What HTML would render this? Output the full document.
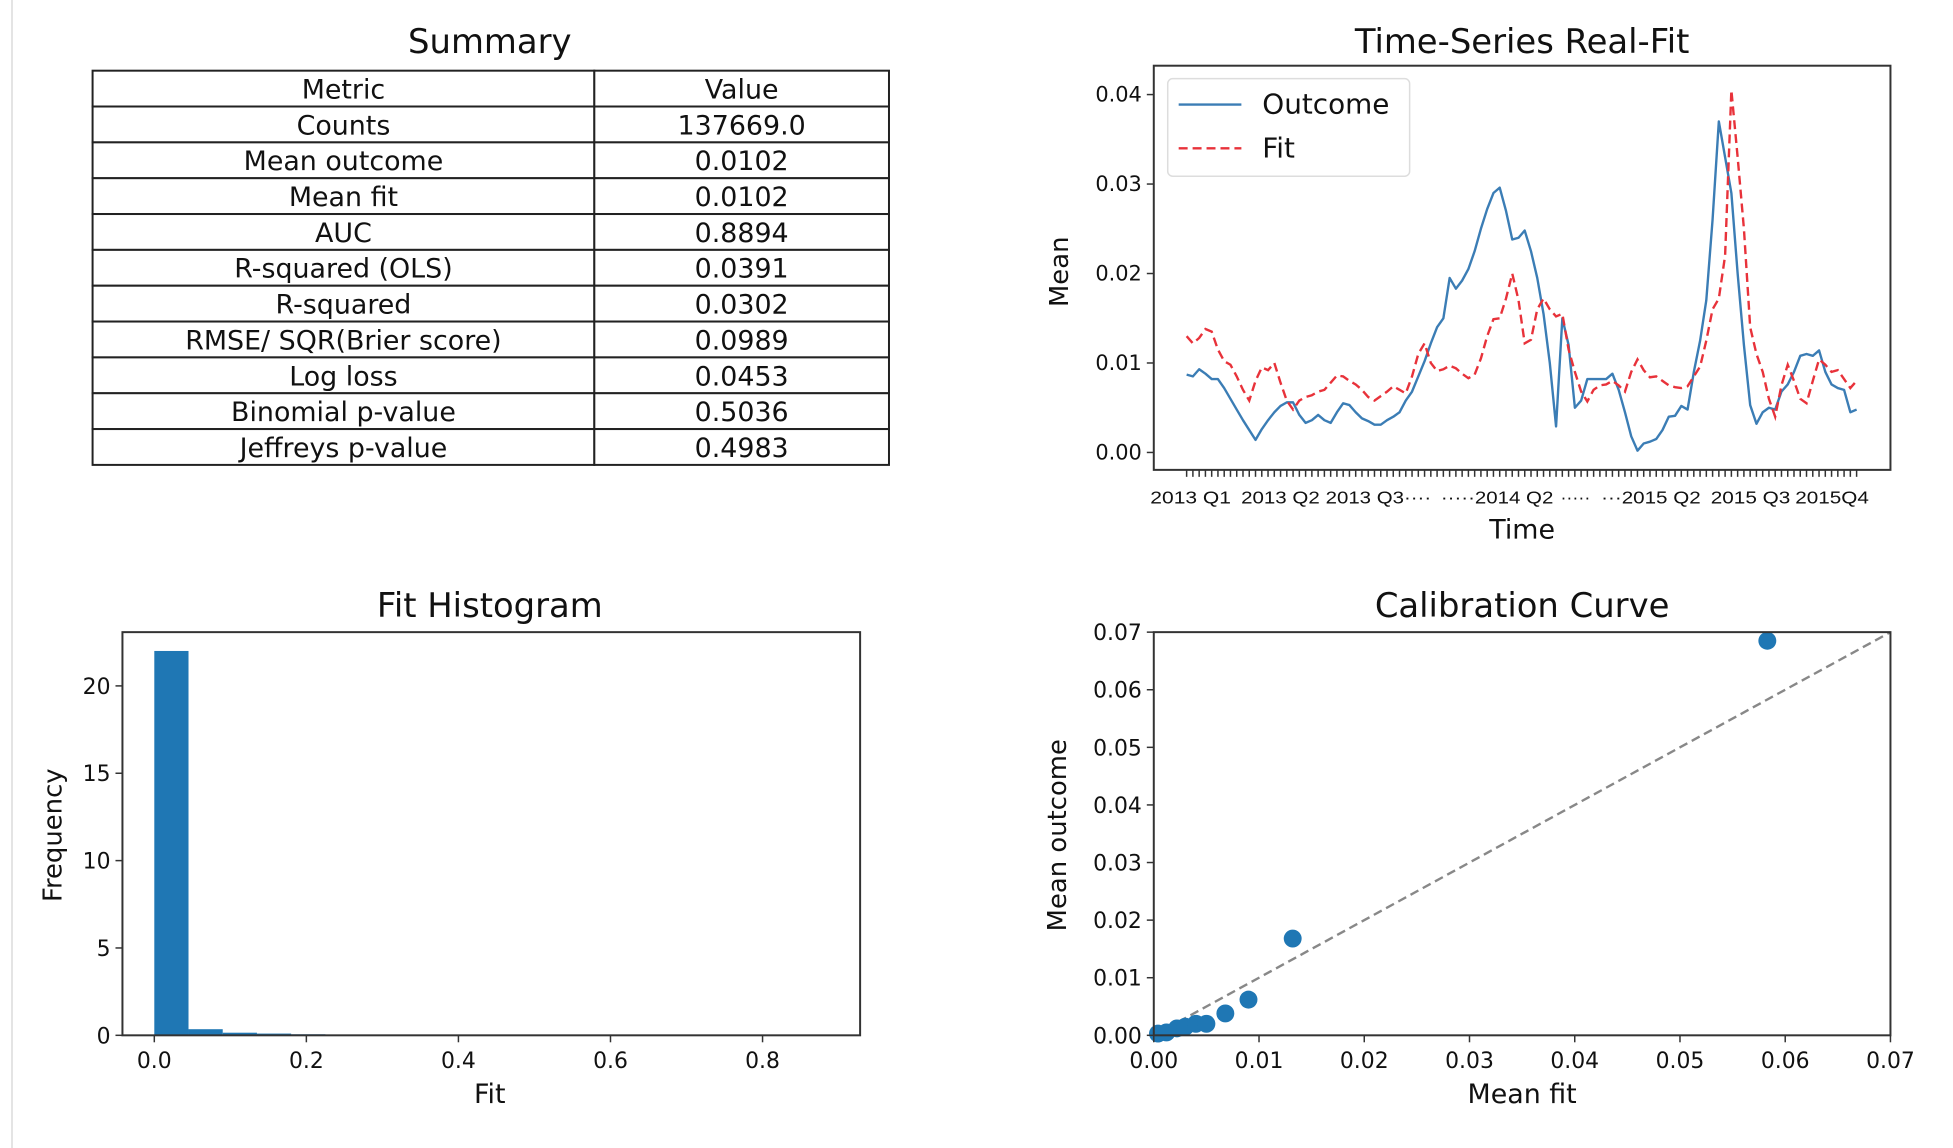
<!DOCTYPE html>
<html><head><meta charset="utf-8">
<style>
html,body{margin:0;padding:0;background:#fff;}
svg{display:block;font-family:"DejaVu Sans","Liberation Sans",sans-serif;}
</style></head>
<body>
<svg id="fig" width="1953" height="1148" viewBox="0 0 1953 1148" xmlns="http://www.w3.org/2000/svg">
<rect x="0" y="0" width="1953" height="1148" fill="#fff"/>
<line x1="12" y1="0" x2="12" y2="1148" stroke="#e4e4e4" stroke-width="2"/>
<g transform="scale(0.9955)">
<g id="summary"></g>
<g id="ts"></g>
<g id="hist"></g>
<g id="cal"></g>
</g>
</svg>
<script>
// ---- Summary table data ----
const metricNames = ["Counts","Mean outcome","Mean fit","AUC","R-squared (OLS)","R-squared","RMSE/ SQR(Brier score)","Log loss","Binomial p-value","Jeffreys p-value"];
const metricValues = ["137669.0","0.0102","0.0102","0.8894","0.0391","0.0302","0.0989","0.0453","0.5036","0.4983"];

// ---- Time series data ----
const outcomeSeries = [.0087,.0085,.0093,.0088,.0082,.0082,.0072,.0060,.0048,.0036,.0025,.0014,.0026,.0036,.0045,.0052,.0056,.0056,.0042,.0033,.0036,.0042,.0036,.0033,.0045,.0055,.0053,.0045,.0038,.0035,.0031,.0031,.0036,.0040,.0045,.0058,.0068,.0085,.0102,.0122,.0140,.0150,.0195,.0183,.0192,.0205,.0225,.0250,.0272,.0290,.0296,.0270,.0238,.0240,.0248,.0225,.0195,.0155,.0100,.0029,.0150,.0120,.0050,.0058,.0082,.0082,.0082,.0082,.0088,.0070,.0045,.0018,.0002,.0010,.0012,.0015,.0025,.0040,.0041,.0052,.0048,.0090,.0125,.0170,.0260,.0370,.0330,.0290,.0200,.0120,.0053,.0032,.0045,.0050,.0048,.0068,.0076,.0090,.0108,.0110,.0108,.0114,.0090,.0076,.0072,.0070,.0045,.0048];
const fitSeries = [.0130,.0122,.0128,.0138,.0135,.0115,.0102,.0098,.0085,.0070,.0058,.0080,.0095,.0092,.0100,.0078,.0058,.0048,.0058,.0062,.0064,.0068,.0070,.0078,.0086,.0085,.0080,.0076,.0070,.0062,.0058,.0063,.0068,.0074,.0070,.0066,.0085,.0110,.0122,.0100,.0091,.0093,.0097,.0094,.0088,.0083,.0087,.0105,.0130,.0149,.0150,.0172,.0200,.0170,.0122,.0126,.0160,.0172,.0160,.0152,.0155,.0115,.0090,.0068,.0057,.0070,.0075,.0076,.0080,.0075,.0068,.0090,.0104,.0092,.0084,.0085,.0080,.0075,.0073,.0072,.0074,.0085,.0096,.0125,.0160,.0172,.0220,.0405,.0330,.0250,.0140,.0110,.0090,.0060,.0040,.0075,.0098,.0080,.0060,.0055,.0080,.0104,.0098,.0090,.0092,.0082,.0072,.0080];
const tsYTicks = [0.00,0.01,0.02,0.03,0.04];
const tsYTickLabels = ["0.00","0.01","0.02","0.03","0.04"];
const tsXLabels = ["2013 Q1","2013 Q2","2013 Q3····","·····2014 Q2","·····","···2015 Q2","2015 Q3","2015Q4"];
const tsXLabelIdx = [-5.8,8.7,22.2,40.6,59.7,66.2,83.7,97.2];
const tsXLabelLen = [81,79,106,113,30,100,80,74];

// ---- Histogram data ----
const histBinStart = [0,0.045,0.09,0.135,0.18,0.225,0.27,0.315,0.36,0.405];
const histBinWidth = 0.045;
const histCounts = [22,0.35,0.15,0.1,0.06,0.04,0.02,0.01,0.01,0.01];
const histXTicks = [0.0,0.2,0.4,0.6,0.8];
const histYTicks = [0,5,10,15,20];

// ---- Calibration data ----
const calMeanFit = [0.0004,0.0012,0.0022,0.0030,0.0040,0.0050,0.0068,0.0090,0.0132,0.0583];
const calMeanOutcome = [0.0003,0.0005,0.0012,0.0015,0.0020,0.0020,0.0038,0.0062,0.0168,0.0685];
const calTicks = [0,0.01,0.02,0.03,0.04,0.05,0.06,0.07];
const calTickLabels = ["0.00","0.01","0.02","0.03","0.04","0.05","0.06","0.07"];

const NS="http://www.w3.org/2000/svg";
function mk(parent,tag,attrs,text){
  const e=document.createElementNS(NS,tag);
  for(const k in attrs) e.setAttribute(k,attrs[k]);
  if(text!==undefined) e.textContent=text;
  parent.appendChild(e);
  return e;
}
function lin(d0,d1,r0,r1){return v=>r0+(v-d0)*(r1-r0)/(d1-d0);}

// ================= Summary table =================
(function(){
  const g=document.getElementById('summary');
  const L=93,R=893,D=597,T=71,rh=36;
  let t=mk(g,'text',{x:492,y:53,'text-anchor':'middle','font-size':34,fill:'#111'},"Summary");
  
  
  const rows=[["Metric","Value"]];
  for(let i=0;i<metricNames.length;i++) rows.push([metricNames[i],metricValues[i]]);
  rows.forEach((r,i)=>{
    const y=T+i*rh;
    const c1=mk(g,'rect',{x:L,y:y,width:D-L,height:rh,fill:'#fff',stroke:'#222','stroke-width':2});
    
    
    const c2=mk(g,'rect',{x:D,y:y,width:R-D,height:rh,fill:'#fff',stroke:'#222','stroke-width':2});
    
    
    const a=mk(g,'text',{x:(L+D)/2,y:y+rh/2+10,'text-anchor':'middle','font-size':27,fill:'#111'},r[0]);
    
    
    const b=mk(g,'text',{x:(D+R)/2,y:y+rh/2+10,'text-anchor':'middle','font-size':27,fill:'#111'},r[1]);
    
    
  });
})();

// ================= Time series =================
(function(){
  const g=document.getElementById('ts');
  const FL=1159,FR=1899,FT=66,FB=472;
  const n=outcomeSeries.length;
  const x=lin(0,n-1,1192,1865);
  const y=lin(0,0.04,454.5,95);
  let t=mk(g,'text',{x:1529,y:53,'text-anchor':'middle','font-size':34,fill:'#111'},"Time-Series Real-Fit");
  
  
  for(let i=0;i<n;i++){
    const tk=mk(g,'line',{x1:x(i),x2:x(i),y1:FB,y2:FB+7,stroke:'#333','stroke-width':1.5});
    
    
  }
  tsXLabels.forEach((s,i)=>{
    const e=mk(g,'text',{x:x(tsXLabelIdx[i]),y:506,'font-size':18,'font-family':'"Liberation Sans",sans-serif',fill:'#111',textLength:tsXLabelLen[i],lengthAdjust:'spacingAndGlyphs'},s);
    
    
  });
  tsYTicks.forEach((v,i)=>{
    const tk=mk(g,'line',{x1:FL-7,x2:FL,y1:y(v),y2:y(v),stroke:'#333','stroke-width':1.5});
    
    
    const e=mk(g,'text',{x:FL-12,y:y(v)+7,'text-anchor':'end','font-size':21,fill:'#111'},tsYTickLabels[i]);
    
    
  });
  const po=outcomeSeries.map((v,i)=>x(i).toFixed(1)+','+y(v).toFixed(1)).join(' ');
  const l1=mk(g,'polyline',{points:po,fill:'none',stroke:'#3b7db5','stroke-width':2.4,'stroke-linejoin':'round'});
  
  
  const pf=fitSeries.map((v,i)=>x(i).toFixed(1)+','+y(v).toFixed(1)).join(' ');
  const l2=mk(g,'polyline',{points:pf,fill:'none',stroke:'#e8323a','stroke-width':2.4,'stroke-dasharray':'9,5'});
  
  
  const fr=mk(g,'rect',{x:FL,y:FT,width:FR-FL,height:FB-FT,fill:'none',stroke:'#333','stroke-width':2});
  
  
  const lg=mk(g,'g',{});
  
  
  mk(lg,'rect',{x:1173,y:79,width:243,height:98,rx:5,fill:'#fff',stroke:'#ddd','stroke-width':1.5});
  const le1=mk(lg,'line',{x1:1184,x2:1247,y1:105,y2:105,stroke:'#3b7db5','stroke-width':2.4});
  
  
  mk(lg,'text',{x:1268,y:114,'font-size':28,fill:'#111'},"Outcome");
  const le2=mk(lg,'line',{x1:1184,x2:1247,y1:149,y2:149,stroke:'#e8323a','stroke-width':2.4,'stroke-dasharray':'9,5'});
  
  
  mk(lg,'text',{x:1268,y:158,'font-size':28,fill:'#111'},"Fit");
  const xl=mk(g,'text',{x:1529,y:541,'text-anchor':'middle','font-size':27,fill:'#111'},"Time");
  
  
  const yl=mk(g,'text',{x:0,y:0,'text-anchor':'middle','font-size':26,fill:'#111',transform:'translate(1073,273) rotate(-90)'},"Mean");
  
  
})();

// ================= Histogram =================
(function(){
  const g=document.getElementById('hist');
  const FL=123,FR=864,FT=635,FB=1040;
  const x=lin(0,0.8,155,766);
  const y=lin(0,20,1040,689);
  let t=mk(g,'text',{x:492,y:620,'text-anchor':'middle','font-size':34,fill:'#111'},"Fit Histogram");
  
  
  histCounts.forEach((c,i)=>{
    const x0=x(histBinStart[i]),x1=x(histBinStart[i]+histBinWidth);
    const b=mk(g,'rect',{x:x0,y:y(c),width:x1-x0,height:y(0)-y(c),fill:'#1f77b4'});
    
    
  });
  histXTicks.forEach(v=>{
    const tk=mk(g,'line',{x1:x(v),x2:x(v),y1:FB,y2:FB+7,stroke:'#333','stroke-width':1.5});
    
    
    const e=mk(g,'text',{x:x(v),y:FB+33,'text-anchor':'middle','font-size':22,fill:'#111'},v.toFixed(1));
    
    
  });
  histYTicks.forEach(v=>{
    const tk=mk(g,'line',{x1:FL-7,x2:FL,y1:y(v),y2:y(v),stroke:'#333','stroke-width':1.5});
    
    
    const e=mk(g,'text',{x:FL-12,y:y(v)+8,'text-anchor':'end','font-size':22,fill:'#111'},String(v));
    
    
  });
  const fr=mk(g,'rect',{x:FL,y:FT,width:FR-FL,height:FB-FT,fill:'none',stroke:'#333','stroke-width':2});
  
  
  const xl=mk(g,'text',{x:492,y:1108,'text-anchor':'middle','font-size':27,fill:'#111'},"Fit");
  
  
  const yl=mk(g,'text',{x:0,y:0,'text-anchor':'middle','font-size':26,fill:'#111',transform:'translate(62,839) rotate(-90)'},"Frequency");
  
  
})();

// ================= Calibration =================
(function(){
  const g=document.getElementById('cal');
  const FL=1159,FR=1899,FT=635,FB=1040;
  const x=lin(0,0.07,FL,FR);
  const y=lin(0,0.07,FB,FT);
  let t=mk(g,'text',{x:1529,y:620,'text-anchor':'middle','font-size':34,fill:'#111'},"Calibration Curve");
  
  
  const d=mk(g,'line',{x1:x(0),y1:y(0),x2:x(0.07),y2:y(0.07),stroke:'#888','stroke-width':2.4,'stroke-dasharray':'9,5'});
  
  
  calMeanFit.forEach((v,i)=>{
    const c=mk(g,'circle',{cx:x(v),cy:y(calMeanOutcome[i]),r:9,fill:'#1f77b4'});
    
    
  });
  calTicks.forEach((v,i)=>{
    const tk=mk(g,'line',{x1:x(v),x2:x(v),y1:FB,y2:FB+7,stroke:'#333','stroke-width':1.5});
    
    
    const e=mk(g,'text',{x:x(v),y:FB+33,'text-anchor':'middle','font-size':22,fill:'#111'},calTickLabels[i]);
    
    
    const ty=mk(g,'line',{x1:FL-7,x2:FL,y1:y(v),y2:y(v),stroke:'#333','stroke-width':1.5});
    
    
    const ey=mk(g,'text',{x:FL-12,y:y(v)+8,'text-anchor':'end','font-size':22,fill:'#111'},calTickLabels[i]);
    
    
  });
  const fr=mk(g,'rect',{x:FL,y:FT,width:FR-FL,height:FB-FT,fill:'none',stroke:'#333','stroke-width':2});
  
  
  const xl=mk(g,'text',{x:1529,y:1108,'text-anchor':'middle','font-size':27,fill:'#111'},"Mean fit");
  
  
  const yl=mk(g,'text',{x:0,y:0,'text-anchor':'middle','font-size':26,fill:'#111',transform:'translate(1071,839) rotate(-90)'},"Mean outcome");
  
  
})();
</script>
</body></html>
